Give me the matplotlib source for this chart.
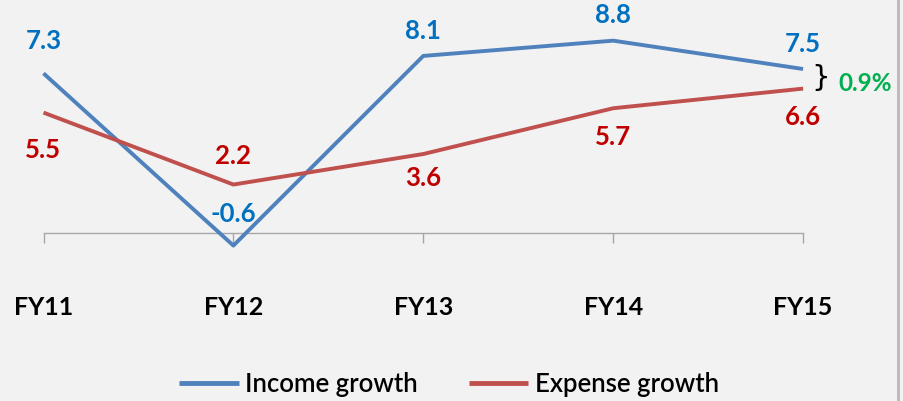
import matplotlib
matplotlib.use("Agg")
import matplotlib.pyplot as plt
from matplotlib.lines import Line2D

categories = ["FY11", "FY12", "FY13", "FY14", "FY15"]
income = [7.3, -0.6, 8.1, 8.8, 7.5]
expense = [5.5, 2.2, 3.6, 5.7, 6.6]
gap_label = "0.9%"

# label offsets in pixels (negative = above)
inc_off = [-33, -33, -26, -27, -26]
exp_off = [36, -30, 23, 28, 27]

BG = "#F2F2F2"
BLUE_LINE = "#4F81BD"
RED_LINE = "#C0504D"
BLUE_TXT = "#0070C0"
RED_TXT = "#C00000"
GREEN = "#00B050"
FONT = "Lato"

W, H = 904, 402
fig = plt.figure(figsize=(W / 100, H / 100), dpi=100, facecolor=BG)
ax = fig.add_axes([0, 0, 1, 1], facecolor=BG)

x0px, dxpx = 43.5, 189.9
y0px, dypx = 233.5, 21.8
ax.set_xlim(-x0px / dxpx, (W - x0px) / dxpx)
ax.set_ylim(-(H - y0px) / dypx, y0px / dypx)

xs = list(range(len(categories)))
ax.plot(xs, income, color=BLUE_LINE, lw=2.8, solid_capstyle="butt", label="Income growth", zorder=3)
ax.plot(xs, expense, color=RED_LINE, lw=2.8, solid_capstyle="butt", label="Expense growth", zorder=3)

for x, v, o in zip(xs, income, inc_off):
    ax.annotate(f"{v:.1f}", (x, v), xytext=(0, -o * 0.72), textcoords="offset points",
                ha="center", va="center", color=BLUE_TXT, fontsize=18.5, fontweight="bold", family=FONT)
for x, v, o in zip(xs, expense, exp_off):
    ax.annotate(f"{v:.1f}", (x, v), xytext=(0, -o * 0.72), textcoords="offset points",
                ha="center", va="center", color=RED_TXT, fontsize=18.5, fontweight="bold", family=FONT)

# gap annotation
mid = (income[-1] + expense[-1]) / 2
ax.annotate("}", (xs[-1], mid), xytext=(18 * 0.72, 1), textcoords="offset points",
            ha="center", va="center", color="black", fontsize=21, family="DejaVu Sans")
ax.annotate(gap_label, (xs[-1], mid), xytext=(35 * 0.72, -3), textcoords="offset points",
            ha="left", va="center", color=GREEN, fontsize=17.5, fontweight="bold", family=FONT)

# axis
for s in ["top", "right", "left"]:
    ax.spines[s].set_visible(False)
ax.spines["bottom"].set_position(("data", 0))
ax.spines["bottom"].set_bounds(xs[0], xs[-1])
ax.spines["bottom"].set_color("#A6A6A6")
ax.spines["bottom"].set_linewidth(1.0)
ax.set_yticks([])
ax.set_xticks(xs)
ax.set_xticklabels(categories, fontsize=18, fontweight="bold", family=FONT)
ax.tick_params(axis="x", direction="out", length=7, width=1.0, color="#A6A6A6", pad=38)

# right border
fig.add_artist(Line2D([898.5 / W, 898.5 / W], [0, 1], color="#B8B8B8", lw=2.0, transform=fig.transFigure))

leg = fig.legend(loc="center", bbox_to_anchor=(449 / W, 1 - 385 / H), ncol=2, frameon=False,
                 prop={"family": FONT, "size": 18.5, "weight": "semibold"}, handlelength=2.3,
                 handletextpad=0.25, columnspacing=2.0)
for h in leg.get_lines():
    h.set_linewidth(3.5)

fig.savefig("out.png", dpi=100, facecolor=BG)
